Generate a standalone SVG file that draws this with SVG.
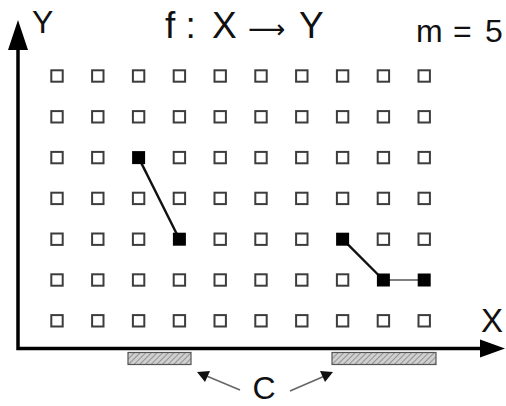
<svg xmlns="http://www.w3.org/2000/svg" xmlns:xlink="http://www.w3.org/1999/xlink" width="506" height="406" viewBox="0 0 506 406">
<style>
.t{font-family:"Liberation Sans",Arial,sans-serif;fill:#111}
.pt{fill:#fff;stroke:#3c3c3c;stroke-width:2}
.fp{fill:#000}
.edge{stroke:#111;stroke-width:2.4;fill:none}
.edge2{stroke:#555;stroke-width:1.6;fill:none}
.ptr{stroke:#666;stroke-width:1.5;fill:none}
.hat{fill:url(#hatch);stroke:#555;stroke-width:1.2}
</style>
<defs>
<rect id="sq" class="pt" x="-5.7" y="-5.7" width="11.4" height="11.4"/>
<rect id="fsq" class="fp" x="-6.5" y="-6.5" width="13" height="13"/>
<pattern id="hatch" patternUnits="userSpaceOnUse" width="4" height="4" patternTransform="rotate(45)">
<rect width="4" height="4" fill="#d0d0d0"/>
<line x1="0" y1="0" x2="0" y2="4" stroke="#777" stroke-width="1.4"/>
</pattern>
</defs>
<rect width="506" height="406" fill="#fff"/>

<g id="axes">
<polyline points="18,48 18,348.5 482,348.5" fill="none" stroke="#000" stroke-width="3.5"/>
<polygon points="18,20 8,50 28,50" fill="#000"/>
<polygon points="505,348.5 480,339.5 480,357.5" fill="#000"/>
</g>

<g id="grid">
<use xlink:href="#sq" x="57" y="76"/><use xlink:href="#sq" x="97.8" y="76"/><use xlink:href="#sq" x="138.6" y="76"/><use xlink:href="#sq" x="179.4" y="76"/><use xlink:href="#sq" x="220.2" y="76"/><use xlink:href="#sq" x="261" y="76"/><use xlink:href="#sq" x="301.8" y="76"/><use xlink:href="#sq" x="342.6" y="76"/><use xlink:href="#sq" x="383.4" y="76"/><use xlink:href="#sq" x="424.2" y="76"/>
<use xlink:href="#sq" x="57" y="116.8"/><use xlink:href="#sq" x="97.8" y="116.8"/><use xlink:href="#sq" x="138.6" y="116.8"/><use xlink:href="#sq" x="179.4" y="116.8"/><use xlink:href="#sq" x="220.2" y="116.8"/><use xlink:href="#sq" x="261" y="116.8"/><use xlink:href="#sq" x="301.8" y="116.8"/><use xlink:href="#sq" x="342.6" y="116.8"/><use xlink:href="#sq" x="383.4" y="116.8"/><use xlink:href="#sq" x="424.2" y="116.8"/>
<use xlink:href="#sq" x="57" y="157.6"/><use xlink:href="#sq" x="97.8" y="157.6"/><use xlink:href="#sq" x="179.4" y="157.6"/><use xlink:href="#sq" x="220.2" y="157.6"/><use xlink:href="#sq" x="261" y="157.6"/><use xlink:href="#sq" x="301.8" y="157.6"/><use xlink:href="#sq" x="342.6" y="157.6"/><use xlink:href="#sq" x="383.4" y="157.6"/><use xlink:href="#sq" x="424.2" y="157.6"/>
<use xlink:href="#sq" x="57" y="198.4"/><use xlink:href="#sq" x="97.8" y="198.4"/><use xlink:href="#sq" x="138.6" y="198.4"/><use xlink:href="#sq" x="179.4" y="198.4"/><use xlink:href="#sq" x="220.2" y="198.4"/><use xlink:href="#sq" x="261" y="198.4"/><use xlink:href="#sq" x="301.8" y="198.4"/><use xlink:href="#sq" x="342.6" y="198.4"/><use xlink:href="#sq" x="383.4" y="198.4"/><use xlink:href="#sq" x="424.2" y="198.4"/>
<use xlink:href="#sq" x="57" y="239.2"/><use xlink:href="#sq" x="97.8" y="239.2"/><use xlink:href="#sq" x="138.6" y="239.2"/><use xlink:href="#sq" x="220.2" y="239.2"/><use xlink:href="#sq" x="261" y="239.2"/><use xlink:href="#sq" x="301.8" y="239.2"/><use xlink:href="#sq" x="383.4" y="239.2"/><use xlink:href="#sq" x="424.2" y="239.2"/>
<use xlink:href="#sq" x="57" y="280"/><use xlink:href="#sq" x="97.8" y="280"/><use xlink:href="#sq" x="138.6" y="280"/><use xlink:href="#sq" x="179.4" y="280"/><use xlink:href="#sq" x="220.2" y="280"/><use xlink:href="#sq" x="261" y="280"/><use xlink:href="#sq" x="301.8" y="280"/><use xlink:href="#sq" x="342.6" y="280"/>
<use xlink:href="#sq" x="57" y="320.8"/><use xlink:href="#sq" x="97.8" y="320.8"/><use xlink:href="#sq" x="138.6" y="320.8"/><use xlink:href="#sq" x="179.4" y="320.8"/><use xlink:href="#sq" x="220.2" y="320.8"/><use xlink:href="#sq" x="261" y="320.8"/><use xlink:href="#sq" x="301.8" y="320.8"/><use xlink:href="#sq" x="342.6" y="320.8"/><use xlink:href="#sq" x="383.4" y="320.8"/><use xlink:href="#sq" x="424.2" y="320.8"/>
</g>

<g id="connectors">
<line class="edge" x1="138.6" y1="157.6" x2="179.4" y2="239.2"/>
<line class="edge" x1="342.6" y1="239.2" x2="383.4" y2="280"/>
<line class="edge2" x1="383.4" y1="280" x2="424.2" y2="280"/>
<line class="ptr" x1="240" y1="390" x2="203" y2="374.5"/>
<polygon points="197,372 210,371 205,382" fill="#111"/>
<line class="ptr" x1="290" y1="391" x2="327" y2="375"/>
<polygon points="333,372 320,371 325,382" fill="#111"/>
</g>

<g id="p1"><use xlink:href="#fsq" x="138.6" y="157.6"/></g>
<g id="p2"><use xlink:href="#fsq" x="179.4" y="239.2"/></g>
<g id="p3"><use xlink:href="#fsq" x="342.6" y="239.2"/></g>
<g id="p4"><use xlink:href="#fsq" x="383.4" y="280"/></g>
<g id="p5"><use xlink:href="#fsq" x="424.2" y="280"/></g>

<g id="C-sets">
<rect class="hat" x="128" y="352.5" width="63" height="12"/>
<rect class="hat" x="332" y="352.5" width="104" height="12"/>
</g>

<text class="t" x="32" y="33" font-size="32">Y</text>
<text class="t" x="481" y="332" font-size="33">X</text>
<text class="t" y="38" font-size="37"><tspan x="165">f :</tspan><tspan x="212">X</tspan><tspan x="248" font-family="'DejaVu Sans',sans-serif" font-size="26">⟶</tspan><tspan x="299">Y</tspan></text>
<text class="t" y="42" font-size="32"><tspan x="416">m</tspan><tspan x="453">=</tspan><tspan x="485">5</tspan></text>
<text class="t" x="264" y="399" font-size="32" text-anchor="middle">C</text>
</svg>
